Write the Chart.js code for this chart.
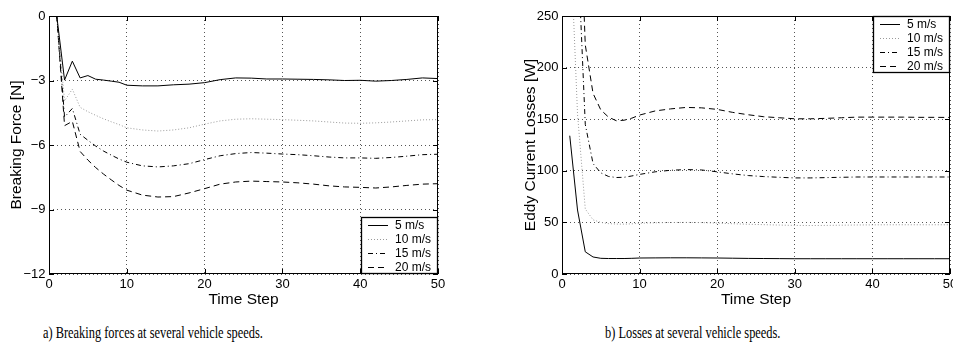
<!DOCTYPE html>
<html>
<head>
<meta charset="utf-8">
<script src="https://cdn.jsdelivr.net/npm/chart.js@4.4.1/dist/chart.umd.min.js"></script>
<style>
  body { margin: 0; background: #fff; width: 953px; height: 347px; position: relative; overflow: hidden; }
  canvas { position: absolute; top: 0; }
  #left { left: 0; }
  #right { left: 476px; }
  .caption { position: absolute; top: 323px; font: 12.4px "Liberation Serif", "Times New Roman", serif; color: #000; white-space: nowrap; line-height: 14px; transform: scaleY(1.4); transform-origin: 0 0; }
</style>
</head>
<body>
<canvas id="left" width="476" height="310"></canvas>
<canvas id="right" width="477" height="310"></canvas>
<div class="caption" style="left:43px">a) Breaking forces at several vehicle speeds.</div>
<div class="caption" style="left:605px">b) Losses at several vehicle speeds.</div>
<script>
const timeSteps = [1, 2, 3, 4, 5, 6, 7, 8, 9, 10, 12, 14, 16, 18, 20, 22, 24, 26, 28, 30, 32, 34, 36, 38, 40, 42, 44, 46, 48, 50];
const speedLabels = ['5 m/s', '10 m/s', '15 m/s', '20 m/s'];

// breaking force [N]
const force5 = [0, -2.98, -2.1, -2.88, -2.77, -2.94, -2.98, -3.03, -3.08, -3.22, -3.25, -3.25, -3.2, -3.17, -3.1, -2.96, -2.88, -2.89, -2.93, -2.93, -2.94, -2.95, -2.97, -3.0, -2.99, -3.03, -3.0, -2.95, -2.88, -2.91];
const force10 = [0, -3.95, -3.4, -4.25, -4.45, -4.62, -4.78, -4.92, -5.05, -5.2, -5.3, -5.35, -5.3, -5.2, -5.03, -4.88, -4.8, -4.78, -4.8, -4.82, -4.85, -4.88, -4.93, -4.98, -4.99, -4.97, -4.93, -4.88, -4.83, -4.82];
const force15 = [0, -4.7, -4.3, -5.5, -5.78, -6.05, -6.28, -6.47, -6.65, -6.8, -6.97, -7.02, -6.97, -6.87, -6.68, -6.5, -6.4, -6.35, -6.38, -6.42, -6.45, -6.5, -6.56, -6.6, -6.6, -6.62, -6.58, -6.52, -6.45, -6.43];
const force20 = [0, -5.1, -4.9, -6.3, -6.7, -7.05, -7.35, -7.62, -7.88, -8.1, -8.33, -8.42, -8.4, -8.23, -8.03, -7.82, -7.72, -7.68, -7.7, -7.72, -7.76, -7.82, -7.9, -7.95, -7.97, -8.0, -7.95, -7.88, -7.82, -7.8];

// eddy current losses [W]
const loss5 = [134, 62, 21.5, 16.5, 15.2, 15, 15, 15, 15.2, 15.5, 15.6, 15.7, 15.7, 15.6, 15.5, 15.3, 15.1, 15, 14.9, 14.8, 14.8, 14.8, 14.8, 14.8, 14.8, 14.8, 14.8, 14.8, 14.8, 14.8];
const loss10 = [340, 155, 63, 52.5, 50, 48.8, 48.4, 48.3, 48.6, 49.2, 49.6, 49.9, 50, 49.8, 49.3, 48.7, 48.2, 47.8, 47.4, 47.1, 47, 47.1, 47.3, 47.5, 47.6, 47.7, 47.7, 47.7, 47.7, 47.7];
const loss15 = [520, 320, 145, 107, 98, 94.5, 93.5, 93.7, 95, 96.5, 99, 100.5, 101.2, 100.8, 99, 97, 95.4, 94.4, 93.7, 93.1, 93.1, 93.4, 93.7, 94, 94, 94, 94, 94, 94, 94];
const loss20 = [560, 420, 222, 175, 159, 152, 148.5, 149, 151, 154, 158, 160, 161.4, 161, 159.5, 156.6, 154.3, 152.4, 151.4, 150.4, 150.4, 150.8, 151.4, 152, 152, 152, 152, 151.8, 151.8, 151.7];

Chart.defaults.font.family = '"Liberation Sans", Arial, sans-serif';
Chart.defaults.color = '#000';

const lineStyles = [
  { borderColor: '#000', borderDash: [] },
  { borderColor: '#9a9a9a', borderDash: [1, 2] },
  { borderColor: '#000', borderDash: [5, 3, 1, 3] },
  { borderColor: '#000', borderDash: [6, 4] }
];

function makeDatasets(series) {
  return series.map((vals, i) => ({
    label: speedLabels[i],
    data: timeSteps.map((t, j) => ({ x: t, y: vals[j] })),
    borderColor: lineStyles[i].borderColor,
    borderDash: lineStyles[i].borderDash,
    borderWidth: 1,
    pointRadius: 0,
    tension: 0,
    fill: false
  }));
}

// box round the plot plus inward tick marks, like matlab
const framePlugin = {
  id: 'frame',
  afterDatasetsDraw(chart) {
    const { ctx, chartArea: a, scales: { x, y } } = chart;
    ctx.save();
    ctx.strokeStyle = '#000';
    ctx.lineWidth = 1;
    ctx.setLineDash([]);
    ctx.strokeRect(a.left + 0.5, a.top + 0.5, a.right - a.left - 1, a.bottom - a.top - 1);
    ctx.beginPath();
    x.ticks.forEach(t => {
      const px = Math.round(x.getPixelForValue(t.value)) + 0.5;
      ctx.moveTo(px, a.bottom); ctx.lineTo(px, a.bottom - 5);
      ctx.moveTo(px, a.top); ctx.lineTo(px, a.top + 5);
    });
    y.ticks.forEach(t => {
      const py = Math.round(y.getPixelForValue(t.value)) + 0.5;
      ctx.moveTo(a.left, py); ctx.lineTo(a.left + 5, py);
      ctx.moveTo(a.right, py); ctx.lineTo(a.right - 5, py);
    });
    ctx.stroke();
    ctx.restore();
  }
};

// legend drawn inside the plot area
const boxLegend = {
  id: 'boxLegend',
  afterDraw(chart, args, opts) {
    const { ctx, chartArea: a } = chart;
    const w = 77, h = 57;
    const bx = a.right - w;
    const by = opts.corner === 'bottom' ? a.bottom - h : a.top;
    ctx.save();
    ctx.fillStyle = '#fff';
    ctx.fillRect(bx, by, w, h);
    ctx.strokeStyle = '#000';
    ctx.lineWidth = 1.3;
    ctx.strokeRect(bx + 0.5, by + 0.5, w - 1, h - 1);
    ctx.font = '12px "Liberation Sans", Arial, sans-serif';
    ctx.textBaseline = 'middle';
    chart.data.datasets.forEach((ds, i) => {
      const cy = Math.round(by + 8.3 + i * 13.9) + 0.5;
      ctx.beginPath();
      ctx.strokeStyle = ds.borderColor;
      ctx.lineWidth = 1;
      ctx.setLineDash(ds.borderDash);
      ctx.moveTo(bx + 7, cy);
      ctx.lineTo(bx + 27, cy);
      ctx.stroke();
      ctx.setLineDash([]);
      ctx.fillStyle = '#000';
      ctx.fillText(ds.label, bx + 34, cy);
    });
    ctx.restore();
  }
};

function makeOptions(cfg) {
  return {
    responsive: false,
    animation: false,
    layout: { padding: { top: 16, right: cfg.rightPad, left: 0, bottom: 0 } },
    plugins: {
      legend: { display: false },
      tooltip: { enabled: false },
      boxLegend: { corner: cfg.legendCorner }
    },
    scales: {
      x: {
        type: 'linear', min: 0, max: 50,
        ticks: { stepSize: 10, padding: 3, font: { size: 13 } },
        grid: { color: '#555', drawTicks: false, lineWidth: 1 },
        border: { display: false, dash: [1, 3] },
        title: { display: true, text: 'Time Step', font: { size: 15.5 }, padding: { top: 0, bottom: 1 } },
        afterFit(scale) { scale.height = 36; scale.paddingLeft = 0; scale.paddingRight = 0; }
      },
      y: {
        min: cfg.yMin, max: cfg.yMax,
        ticks: {
          stepSize: cfg.yStep, padding: 3.5, font: { size: 13 },
          callback: v => String(v).replace('-', '\u2212')
        },
        grid: { color: '#555', drawTicks: false, lineWidth: 1 },
        border: { display: false, dash: [1, 3] },
        title: { display: true, text: cfg.yTitle, font: { size: 15.5 }, padding: { top: cfg.yTitlePad, bottom: 0 } },
        afterFit(scale) { scale.width = cfg.yWidth; scale.paddingTop = 0; scale.paddingBottom = 0; }
      }
    }
  };
}

new Chart(document.getElementById('left').getContext('2d'), {
  type: 'line',
  data: { datasets: makeDatasets([force5, force10, force15, force20]) },
  options: makeOptions({
    rightPad: 38, yMin: -12, yMax: 0, yStep: 3, yWidth: 49,
    yTitle: 'Breaking Force [N]', yTitlePad: 7.7, legendCorner: 'bottom'
  }),
  plugins: [framePlugin, boxLegend]
});

new Chart(document.getElementById('right').getContext('2d'), {
  type: 'line',
  data: { datasets: makeDatasets([loss5, loss10, loss15, loss20]) },
  options: makeOptions({
    rightPad: 3, yMin: 0, yMax: 250, yStep: 50, yWidth: 86,
    yTitle: 'Eddy Current Losses [W]', yTitlePad: 45.2, legendCorner: 'top'
  }),
  plugins: [framePlugin, boxLegend]
});
</script>
</body>
</html>
